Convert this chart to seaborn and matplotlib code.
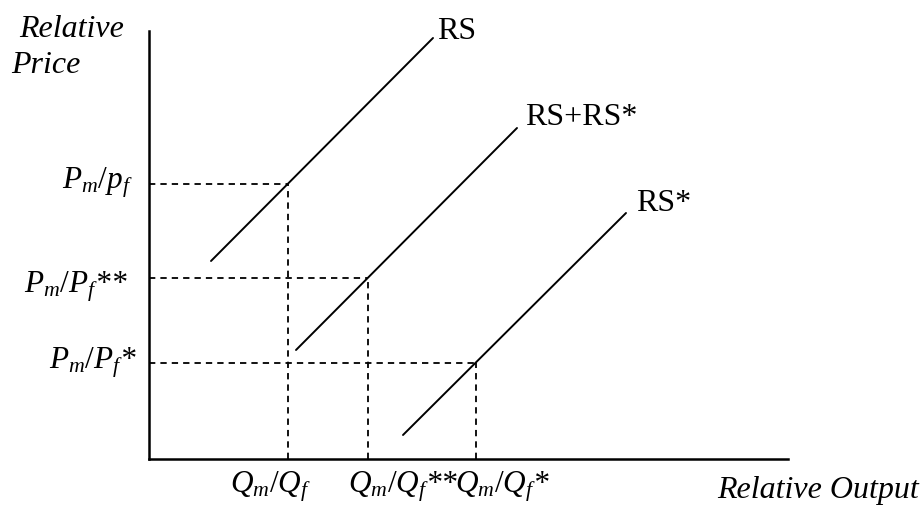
import matplotlib
matplotlib.use("Agg")
import matplotlib.pyplot as plt
import seaborn as sns
import pandas as pd

# ---- data (diagram units, origin at axes corner) ----
rs_x = [62, 284]
rs_y = [198, 421]
rss_x = [147, 368]
rss_y = [109, 331]
rsstar_x = [254, 477]
rsstar_y = [24, 246]
curve_names = ["RS", "RS+RS*", "RS*"]

eq_x = [139, 219, 327]
eq_y = [275, 181, 96]
y_labels = [r"$P_m/p_f$", r"$P_m/P_f$**", r"$P_m/P_f$*"]
x_labels = [r"$Q_m/Q_f$", r"$Q_m/Q_f$**", r"$Q_m/Q_f$*"]

sns.set_theme(style="white")
plt.rcParams["font.family"] = ["Liberation Serif", "DejaVu Serif"]
plt.rcParams["text.color"] = "black"
plt.rcParams["mathtext.fontset"] = "custom"
plt.rcParams["mathtext.rm"] = "Liberation Serif"
plt.rcParams["mathtext.it"] = "Liberation Serif:italic"
plt.rcParams["mathtext.bf"] = "Liberation Serif:bold"

W, H = 922, 507
fig = plt.figure(figsize=(W / 100, H / 100), dpi=100)
fig.patch.set_facecolor("white")
ax = fig.add_axes([149 / W, (H - 459) / H, (788 - 149) / W, (459 - 31) / H])
ax.set_facecolor("white")

df = pd.DataFrame({
    "x": rs_x + rss_x + rsstar_x,
    "y": rs_y + rss_y + rsstar_y,
    "curve": [curve_names[0]] * 2 + [curve_names[1]] * 2 + [curve_names[2]] * 2,
})
sns.lineplot(data=df, x="x", y="y", units="curve", estimator=None,
             color="black", linewidth=1.4, ax=ax, sort=False)

for xv, yv in zip(eq_x, eq_y):
    ax.plot([0, xv], [yv, yv], color="black", linestyle=(0, (3.5, 2.8)), linewidth=1.3)
    ax.plot([xv, xv], [0, yv], color="black", linestyle=(0, (3.5, 2.8)), linewidth=1.3)

ax.set_xlim(0, 639)
ax.set_ylim(0, 428)
ax.set_xticks([])
ax.set_yticks([])
ax.set_xlabel("")
ax.set_ylabel("")
for s in ["top", "right"]:
    ax.spines[s].set_visible(False)
for s in ["left", "bottom"]:
    ax.spines[s].set_color("black")
    ax.spines[s].set_linewidth(1.8)

fs_txt = 23
fs_math = 22.5
# curve labels at top ends
ends = [(rs_x[1], rs_y[1]), (rss_x[1], rss_y[1]), (rsstar_x[1], rsstar_y[1])]
offs = [(4, -1), (8, 3), (10, 2)]
for name, (ex, ey), (dx, dy) in zip(curve_names, ends, offs):
    ax.annotate(name, xy=(ex, ey), xytext=(dx, dy), textcoords="offset pixels",
                ha="left", va="baseline", fontsize=fs_txt, color="black",
                annotation_clip=False)

# y-axis level labels
y_offs = [(-16, -4), (-21, -15), (-12, -6)]
for lab, yv, (dx, dy) in zip(y_labels, eq_y, y_offs):
    ax.annotate(lab, xy=(0, yv), xytext=(dx, dy), textcoords="offset pixels",
                ha="right", va="baseline", fontsize=fs_math, style="italic",
                color="black", annotation_clip=False)

# x-axis level labels
x_offs = [-58, -20, -21]
for lab, xv, dx in zip(x_labels, eq_x, x_offs):
    ax.annotate(lab, xy=(xv, 0), xytext=(dx, -33), textcoords="offset pixels",
                ha="left", va="baseline", fontsize=fs_math, style="italic",
                color="black", annotation_clip=False)

fig.text(19 / W, 1 - 37 / H, "Relative", fontsize=fs_txt, style="italic",
         ha="left", va="baseline", color="black")
fig.text(11 / W, 1 - 73 / H, "Price", fontsize=fs_txt, style="italic",
         ha="left", va="baseline", color="black")
fig.text(717 / W, 1 - 498 / H, "Relative Output", fontsize=fs_txt, style="italic",
         ha="left", va="baseline", color="black")

fig.savefig("out.png", dpi=100, facecolor="white")
